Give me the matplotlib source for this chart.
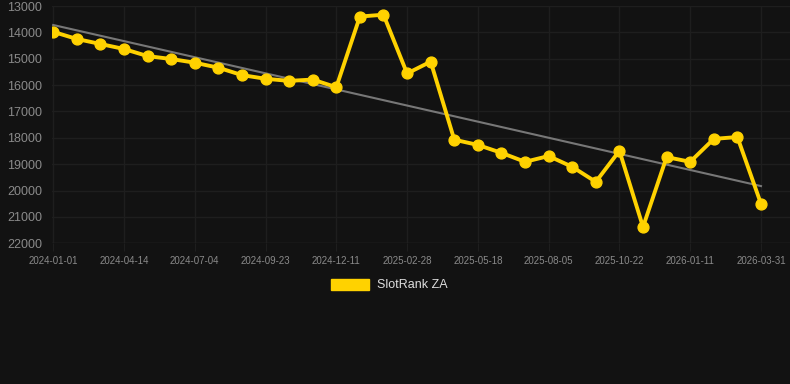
#!/usr/bin/env python
import numpy as np
import matplotlib
matplotlib.use("Agg")
import matplotlib.pyplot as plt
from matplotlib.patches import Patch

plt.rcParams['font.family'] = ['Liberation Sans', 'DejaVu Sans']

# tick labels, one every third point
tick_labels = ["2024-01-01", "2024-04-14", "2024-07-04", "2024-09-23", "2024-12-11",
               "2025-02-28", "2025-05-18", "2025-08-05", "2025-10-22", "2026-01-11",
               "2026-03-31"]

rank = [13980, 14250, 14440, 14630, 14900, 15010, 15150, 15340, 15620, 15760,
        15840, 15790, 16080, 13400, 13330, 15560, 15110, 18070, 18270, 18570,
        18910, 18690, 19100, 19670, 18490, 21380, 18730, 18910, 18040, 17970,
        20500]

trend_start = 13720
trend_end = 19830

y_ticks = [13000, 14000, 15000, 16000, 17000, 18000, 19000, 20000, 21000, 22000]

BG = "#121212"
GRID = "#1e1e1e"
GOLD = "#ffd200"

fig = plt.figure(figsize=(7.9, 3.84), dpi=100, facecolor=BG)
ax = fig.add_axes([52 / 790, 1 - 243.3 / 384, 1 - 52 / 790, (243.3 - 6) / 384])
ax.set_facecolor(BG)

x = np.arange(len(rank))
ax.plot([x[0], x[-1]], [trend_start, trend_end], color="#777777", lw=1.5, zorder=2)
ax.plot(x, rank, color=GOLD, lw=2.8, marker="o", markersize=7.8, zorder=3)

ax.set_xlim(-0.05, 31.23)
ax.set_ylim(22000, 13000)
ax.set_yticks(y_ticks)
ax.set_yticklabels([str(v) for v in y_ticks])
ax.set_xticks(x[::3])
ax.set_xticklabels(tick_labels)

ax.grid(True, color=GRID, lw=1)
ax.set_axisbelow(True)
for s in ax.spines.values():
    s.set_visible(False)
ax.axhline(22000, color="#262626", lw=1, zorder=1)

ax.tick_params(axis="y", length=0, pad=7, labelsize=9, labelcolor="#8a8a8a")
ax.tick_params(axis="x", length=6, color=GRID, pad=3, labelsize=7, labelcolor="#8a8a8a")

fig.legend(handles=[Patch(facecolor=GOLD, edgecolor=GOLD)], labels=["SlotRank ZA"],
           loc="center", bbox_to_anchor=(389 / 790, 1 - 285 / 384), frameon=False,
           handlelength=3.1, handleheight=1.0, handletextpad=0.6,
           fontsize=9, labelcolor="#dddddd")

fig.savefig("out.png", dpi=100, facecolor=BG)
